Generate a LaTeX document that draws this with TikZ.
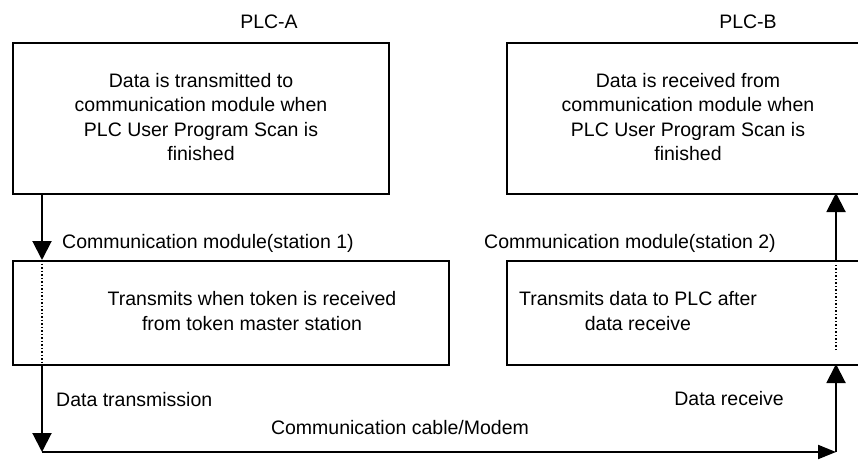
\documentclass[tikz,border=0pt]{standalone}
\usepackage{fontspec}
\setmainfont{Liberation Sans}
\usetikzlibrary{arrows.meta,calc}
\begin{document}
\begin{tikzpicture}[x=1pt,y=-1pt,
  box/.style={draw,line width=2pt,inner sep=0pt,anchor=north west},
  txt/.style={font=\fontsize{19.5}{24.5}\selectfont,align=center,inner sep=0pt},
  lbl/.style={font=\fontsize{19.5}{24.5}\selectfont,inner sep=0pt},
  conn/.style={line width=2pt},
  dotline/.style={line width=1.5pt,dotted},
  tip/.style={-{Triangle[length=19pt,width=19pt]}},
  tiph/.style={-{Triangle[length=18pt,width=14pt]}}]
\useasboundingbox (0,0) rectangle (858,460);
\begin{scope}
\clip (0,0) rectangle (858,460);
% boxes
\node[box,minimum width=376pt,minimum height=151pt] (a1) at (12,42) {};
\node[box,minimum width=364pt,minimum height=151pt] (b1) at (506,42) {};
\node[box,minimum width=436pt,minimum height=104pt] (a2) at (12,260) {};
\node[box,minimum width=364pt,minimum height=104pt] (b2) at (506,260) {};
% titles
\node[lbl] (plca) at (269,22) {PLC-A};
\node[lbl] (plcb) at (748,22) {PLC-B};
% box texts
\node[txt] (ta1) at (201,117) {Data is transmitted to\\communication module when\\PLC User Program Scan is\\finished};
\node[txt] (tb1) at (688,117) {Data is received from\\communication module when\\PLC User Program Scan is\\finished};
\node[txt] (ta2) at (252,311) {Transmits when token is received\\from token master station};
\node[txt] (tb2) at (638,311) {Transmits data to PLC after\\data receive};
% labels
\node[lbl,anchor=west] (cm1) at (62,243) {Communication module(station 1)};
\node[lbl,anchor=west] (cm2) at (484,243) {Communication module(station 2)};
\node[lbl,anchor=west] (dt) at (56,400) {Data transmission};
\node[lbl,anchor=east] (dr) at (784,399) {Data receive};
\node[lbl] (cc) at (400,428) {Communication cable/Modem};
% coordinates
\coordinate (l1) at (42,193);
\coordinate (l2) at (42,260);
\coordinate (l3) at (42,364);
\coordinate (l4) at (42,452);
\coordinate (r4) at (836,452);
\coordinate (r3) at (836,364);
\coordinate (r2) at (836,260);
\coordinate (r1) at (836,193);
% connectors
\draw[conn,tip] (l1) -- (l2);
\draw[dotline] (l2) -- (l3);
\draw[conn,tip] (l3) -- (l4);
\draw[conn,tiph] (l4) -- (r4);
\draw[conn,tip] (r4) -- (r3);
\draw[dotline] ($(r3)+(0,-14)$) -- ($(r2)+(0,3)$);
\draw[conn,tip] (r2) -- (r1);
\end{scope}
\end{tikzpicture}
\end{document}
